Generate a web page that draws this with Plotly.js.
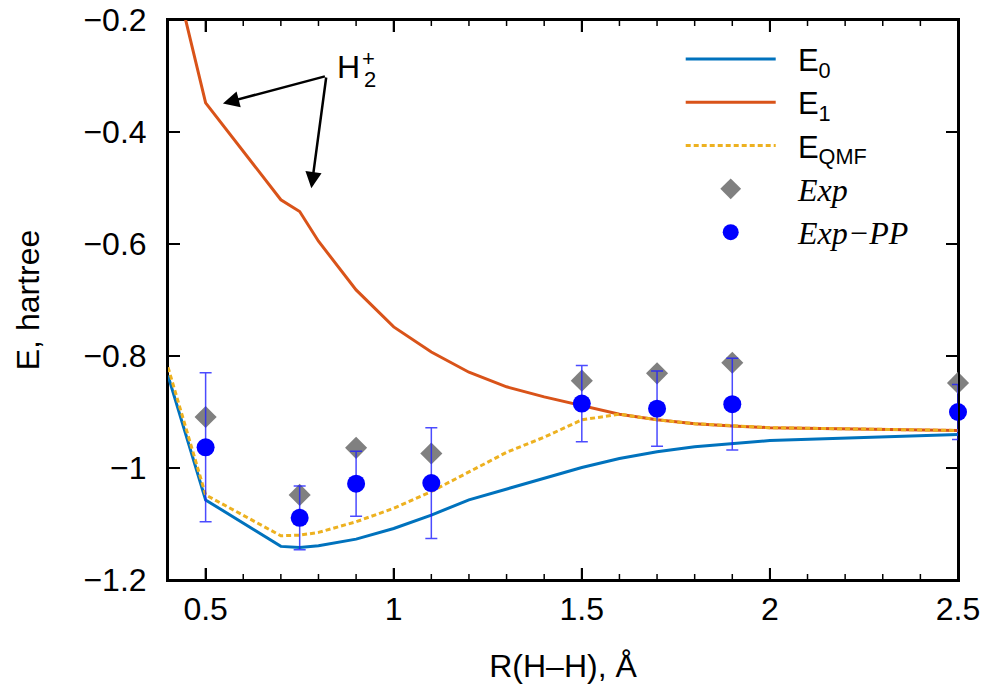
<!DOCTYPE html>
<html>
<head>
<meta charset="utf-8">
<script src="https://cdn.plot.ly/plotly-3.0.1.min.js"></script>
<style>html,body{margin:0;padding:0;background:#fff}#plot{width:992px;height:688px}</style>
</head>
<body>
<div id="plot"></div>
<script>
// Theory curves
const R_theory = [0.4, 0.5, 0.7, 0.75, 0.8, 0.9, 1.0, 1.1, 1.2, 1.3, 1.4, 1.5, 1.6, 1.7, 1.8, 1.9, 2.0, 2.5];
const E0 = [-0.835, -1.057, -1.140, -1.142, -1.139, -1.127, -1.108, -1.084, -1.057, -1.038, -1.018, -0.999, -0.983, -0.971, -0.962, -0.956, -0.951, -0.940];
const E1 = [-0.069, -0.348, -0.521, -0.542, -0.595, -0.682, -0.748, -0.793, -0.829, -0.855, -0.873, -0.889, -0.904, -0.914, -0.921, -0.925, -0.928, -0.933];
const EQMF = [-0.820, -1.048, -1.121, -1.120, -1.115, -1.096, -1.072, -1.042, -1.007, -0.972, -0.945, -0.914, -0.904, -0.914, -0.921, -0.925, -0.928, -0.933];

// Experiment
const R_exp = [0.5, 0.75, 0.9, 1.1, 1.5, 1.7, 1.9, 2.5];
const Exp = [-0.909, -1.048, -0.964, -0.974, -0.844, -0.831, -0.812, -0.848];
const ExpPP = [-0.963, -1.089, -1.028, -1.027, -0.885, -0.894, -0.886, -0.900];
const ExpPP_err = [0.133, 0.057, 0.058, 0.099, 0.068, 0.067, 0.082, 0.049];

// Axes and ticks
const xRange = [0.4, 2.5];
const yRange = [-1.2, -0.2];
const xMajorTicks = [0.5, 1, 1.5, 2, 2.5];
const xMinorTicks = [0.6, 0.7, 0.8, 0.9, 1.1, 1.2, 1.3, 1.4, 1.6, 1.7, 1.8, 1.9, 2.1, 2.2, 2.3, 2.4];
const yMajorTicks = [-1.2, -1, -0.8, -0.6, -0.4, -0.2];

const SANS = 'Liberation Sans, Arial, sans-serif';
const SERIF = 'Liberation Serif';

const W = 992, H = 688, M = {l: 168, r: 34, t: 20, b: 108};
const pxX = (xRange[1] - xRange[0]) / (W - M.l - M.r);   // data units per pixel
const pxY = (yRange[1] - yRange[0]) / (H - M.t - M.b);

// Frame and tick marks drawn as line traces on the axes
const frameX = [xRange[0], xRange[1], xRange[1], xRange[0], xRange[0]];
const frameY = [yRange[1], yRange[1], yRange[0], yRange[0], yRange[1]];
const majX = [], majY = [], minX = [], minY = [];
xMajorTicks.forEach(v => {
  majX.push(v, v, null, v, v, null);
  majY.push(yRange[0], yRange[0] + 12 * pxY, null, yRange[1], yRange[1] - 12 * pxY, null);
});
yMajorTicks.forEach(v => {
  majX.push(xRange[0], xRange[0] + 12 * pxX, null, xRange[1], xRange[1] - 12 * pxX, null);
  majY.push(v, v, null, v, v, null);
});
xMinorTicks.forEach(v => {
  minX.push(v, v, null, v, v, null);
  minY.push(yRange[0], yRange[0] + 6 * pxY, null, yRange[1], yRange[1] - 6 * pxY, null);
});

const NB = '\u00A0\u00A0';
const traces = [
  {x: minX, y: minY, mode: 'lines', line: {color: '#000', width: 1.5}, showlegend: false, hoverinfo: 'skip', cliponaxis: false, connectgaps: false},
  {x: majX, y: majY, mode: 'lines', line: {color: '#000', width: 2}, showlegend: false, hoverinfo: 'skip', cliponaxis: false, connectgaps: false},
  {x: frameX, y: frameY, mode: 'lines', line: {color: '#000', width: 2}, showlegend: false, hoverinfo: 'skip', cliponaxis: false},
  {x: R_theory, y: E0, mode: 'lines', name: NB + 'E<sub>0</sub>',
   line: {color: '#0072BD', width: 3}},
  {x: R_theory, y: E1, mode: 'lines', name: NB + 'E<sub>1</sub>',
   line: {color: '#D95319', width: 3}},
  {x: R_theory, y: EQMF, mode: 'lines', name: NB + 'E<sub>QMF</sub>',
   line: {color: '#EDB120', width: 3, dash: '5px,3px'}},
  {x: R_exp, y: Exp, mode: 'markers', name: NB + '<span style="font-family:' + SERIF + ';font-size:32px"><i>Exp</i></span>',
   marker: {symbol: 'diamond', size: 17, color: '#808080'}, cliponaxis: false},
  {x: R_exp, y: ExpPP, mode: 'markers', name: NB + '<span style="font-family:' + SERIF + ';font-size:32px"><i>Exp\u2212PP</i></span>',
   marker: {symbol: 'circle', size: 18, color: '#0000FF'}, cliponaxis: false,
   error_y: {type: 'data', array: ExpPP_err, visible: true, color: 'rgba(30,30,255,0.8)', thickness: 1.5, width: 6}}
];

function axisBase() {
  return {
    showgrid: false, zeroline: false, showline: true, linecolor: '#000', linewidth: 2,
    mirror: 'allticks', ticks: 'inside', tickcolor: '#000', tickwidth: 2,
    tickfont: {family: SANS, size: 32, color: '#000'}
  };
}

const layout = {
  width: W, height: H,
  margin: M,
  paper_bgcolor: '#fff', plot_bgcolor: '#fff',
  font: {family: SANS, color: '#000'},
  xaxis: Object.assign(axisBase(), {
    range: xRange, tickmode: 'array', tickvals: xMajorTicks,
    ticklen: 12, ticklabelstandoff: 0,
    title: {text: 'R(H\u2013H), \u00C5', font: {family: SANS, size: 32, color: '#000'}, standoff: 28}
  }),
  yaxis: Object.assign(axisBase(), {
    range: yRange, tickmode: 'array', tickvals: yMajorTicks,
    ticklen: 12, ticklabelstandoff: 13,
    title: {text: 'E, hartree', font: {family: SANS, size: 32, color: '#000'}, standoff: 34}
  }),
  showlegend: true,
  legend: {
    x: 0.649, y: 0.978, xanchor: 'left', yanchor: 'top',
    bgcolor: 'rgba(0,0,0,0)', borderwidth: 0, itemwidth: 90,
    font: {family: SANS, size: 31, color: '#000'}
  },
  annotations: [
    {x: 0.546, y: -0.349, ax: 0.821, ay: -0.300, xref: 'x', yref: 'y', axref: 'x', ayref: 'y',
     text: '', showarrow: true, arrowhead: 2, arrowsize: 1.3, arrowwidth: 2.5, arrowcolor: '#000', standoff: 0, startstandoff: 0},
    {x: 0.781, y: -0.5005, ax: 0.821, ay: -0.300, xref: 'x', yref: 'y', axref: 'x', ayref: 'y',
     text: '', showarrow: true, arrowhead: 2, arrowsize: 1.3, arrowwidth: 2.5, arrowcolor: '#000', standoff: 0, startstandoff: 0},
    {x: 0.880, y: -0.284, xref: 'x', yref: 'y', text: 'H', showarrow: false,
     font: {family: SANS, size: 32, color: '#000'}},
    {x: 0.936, y: -0.307, xref: 'x', yref: 'y', text: '2', showarrow: false,
     font: {family: SANS, size: 22, color: '#000'}},
    {x: 0.932, y: -0.269, xref: 'x', yref: 'y', text: '+', showarrow: false,
     font: {family: SANS, size: 22, color: '#000'}}
  ]
};

Plotly.newPlot('plot', traces, layout, {staticPlot: true, displayModeBar: false});
</script>
</body>
</html>
